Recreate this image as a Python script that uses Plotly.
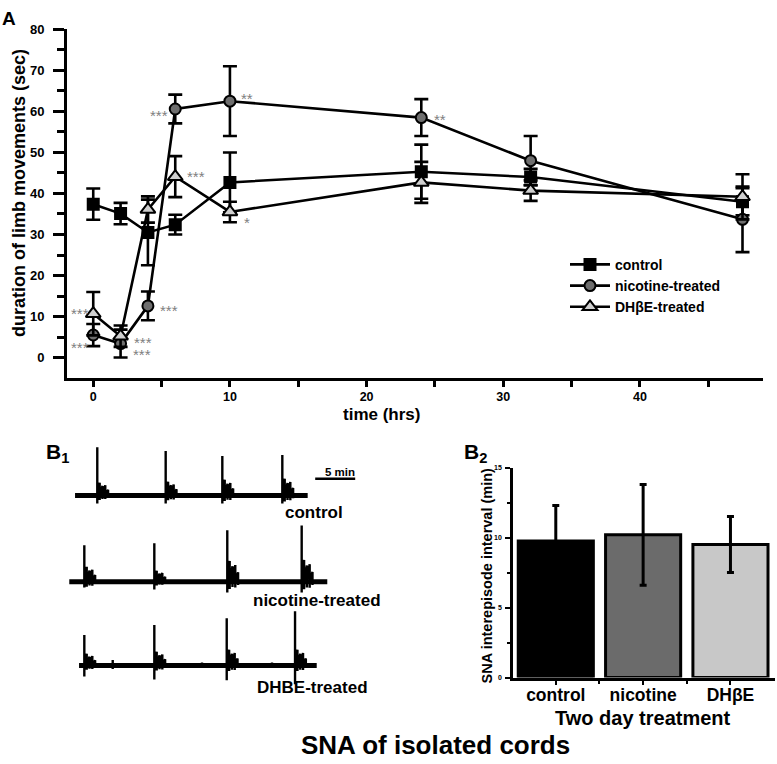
import plotly.graph_objects as go

W, H = 777, 764
def fx(px): return px / W
def fy(py): return 1 - py / H

# ---------------- Panel A data ----------------
time_hrs = [0, 2, 4, 6, 10, 24, 32, 47.5]
control_mean = [37.4, 35.1, 30.5, 32.4, 42.7, 45.3, 44.0, 38.0]
control_err = [3.8, 2.6, 8.0, 2.4, 7.3, 6.6, 2.0, 3.3]
nicotine_mean = [5.5, 3.4, 12.6, 60.6, 62.5, 58.5, 48.0, 33.7]
nicotine_err = [2.7, 3.4, 3.5, 3.5, 8.5, 4.5, 6.0, 8.0]
dhbe_mean = [10.7, 5.2, 36.1, 44.1, 35.5, 42.7, 40.7, 39.2]
dhbe_err = [5.3, 2.6, 3.2, 5.0, 2.5, 5.0, 2.5, 5.5]
series_names = ["control", "nicotine-treated", "DHβE-treated"]

star_text = ["***", "***", "***", "***", "***", "*", "***", "***", "**", "**"]
star_x = [-1.78, -1.78, 2.81, 2.74, 4.75, 10.85, 4.02, 6.71, 10.68, 24.8]
star_y = [3.44, 11.62, 4.74, 1.76, 12.44, 33.94, 59.93, 45.17, 64.19, 59.13]

x_ticks_A = [0, 10, 20, 30, 40]
x_minor_A = [5, 15, 25, 35, 45]
y_ticks_A = [0, 10, 20, 30, 40, 50, 60, 70, 80]
y_minor_A = [5, 15, 25, 35, 45, 55, 65, 75]

# ---------------- Panel B1 data (traces, minutes / amplitude units) ----------------
rec_names = ["control", "nicotine-treated", "DHBE-treated"]
rec_baseline = [205.0, 117.7, 32.7]
rec_start = [1.88, 1.16, 2.38]
rec_end = [30.96, 33.41, 32.09]
rec_event_t = [[4.66, 13.21, 20.29, 27.79],
               [3.04, 11.79, 20.91, 30.21],
               [3.04, 11.79, 20.84, 29.38]]
rec_spike_amp = [[49, 45, 40, 41], [37, 39, 52, 57], [31, 41, 48, 55]]
rec_dip_amp = [[8, 8, 8, 8], [6, 8, 11, 11], [11, 14, 15, 19]]
rec_burst_amp = [[13, 14, 16, 17], [15, 11, 21, 22], [12, 14, 16, 16]]
rec_small_t = [[], [], [6.59, 17.75, 26.5]]
rec_small_amp = [[], [], [5.6, 3, 3]]
burst_offsets = [0.3, 0.65, 1.0, 1.35]
burst_rel = [1.0, 0.75, 0.8, 0.45]
scale_bar_start = 31.9
scale_bar_minutes = 5

# ---------------- Panel B2 data ----------------
b2_categories = ["control", "nicotine", "DHβE"]
b2_values = [9.75, 10.2, 9.5]
b2_err = [2.55, 3.6, 2.0]
b2_colors = ["#000000", "#6b6b6b", "#c8c8c8"]

FONT = "Arial, Liberation Sans, sans-serif"

fig = go.Figure()

# Panel A traces
styles = [
    dict(symbol="square", size=11, color="#000000"),
    dict(symbol="circle", size=11, color="#6e6e6e"),
    dict(symbol="triangle-up", size=13, color="#cfcfcf"),
]
for name, mean, err, st in zip(series_names, [control_mean, nicotine_mean, dhbe_mean],
                               [control_err, nicotine_err, dhbe_err], styles):
    fig.add_trace(go.Scatter(
        x=time_hrs, y=mean, name=name, mode="lines+markers",
        line=dict(color="black", width=2.6),
        marker=dict(symbol=st["symbol"], size=st["size"], color=st["color"],
                    line=dict(color="black", width=2)),
        error_y=dict(type="data", array=err, visible=True, color="black",
                     thickness=2.6, width=7),
        xaxis="x", yaxis="y", showlegend=True))

# Panel B1 traces
for i in range(3):
    base = rec_baseline[i]
    fig.add_trace(go.Scatter(
        x=[rec_start[i], rec_end[i]], y=[base, base], mode="lines",
        line=dict(color="black", width=5), xaxis="x3", yaxis="y3",
        showlegend=False, hoverinfo="skip"))
    xs, ys = [], []
    for t, a, d, b in zip(rec_event_t[i], rec_spike_amp[i], rec_dip_amp[i], rec_burst_amp[i]):
        xs += [t, t, t, t]
        ys += [base, base + a, base - d, base]
        for o, r in zip(burst_offsets, burst_rel):
            xs += [t + o, t + o, t + o]
            ys += [base + b * r, base - b * r * 0.35, base]
        xs.append(None); ys.append(None)
    for t, a in zip(rec_small_t[i], rec_small_amp[i]):
        xs += [t, t, t, None]
        ys += [base + a, base - a * 0.6, base, None]
    fig.add_trace(go.Scatter(
        x=xs, y=ys, mode="lines", line=dict(color="black", width=2.4),
        xaxis="x3", yaxis="y3", showlegend=False, hoverinfo="skip", connectgaps=False))

fig.add_trace(go.Scatter(
    x=[scale_bar_start, scale_bar_start + scale_bar_minutes], y=[222, 222], mode="lines",
    line=dict(color="black", width=2.5), xaxis="x3", yaxis="y3",
    showlegend=False, hoverinfo="skip"))

# Panel B2 bars
fig.add_trace(go.Bar(
    x=[0, 1, 2], y=b2_values, width=0.86,
    marker=dict(color=b2_colors, line=dict(color="black", width=3)),
    error_y=dict(type="data", array=b2_err, visible=True, color="black",
                 thickness=3, width=3.5),
    xaxis="x2", yaxis="y2", showlegend=False))

axis_common = dict(showgrid=False, zeroline=False, showline=True, linecolor="black",
                   ticks="outside", tickcolor="black")

fig.update_layout(
    width=W, height=H, margin=dict(l=0, r=0, t=0, b=0),
    paper_bgcolor="white", plot_bgcolor="white",
    font=dict(family=FONT, color="black"),
    xaxis=dict(domain=[fx(67), fx(763)], range=[-1.92, 49.0], anchor="y",
               tickvals=x_ticks_A, linewidth=3, tickwidth=2.5, ticklen=6,
               tickfont=dict(size=12.5, weight="bold"), ticklabelstandoff=-1,
               minor=dict(tickvals=x_minor_A, ticks="outside", ticklen=6,
                          tickwidth=2.5, tickcolor="black"),
               **axis_common),
    yaxis=dict(domain=[fy(376), fy(22.7)], range=[-5, 80], anchor="x",
               tickvals=y_ticks_A, linewidth=3, tickwidth=2.5, ticklen=11,
               tickfont=dict(size=13, weight="bold"), ticklabelstandoff=6,
               minor=dict(tickvals=y_minor_A, ticks="outside", ticklen=7,
                          tickwidth=2.5, tickcolor="black"),
               **axis_common),
    xaxis2=dict(domain=[fx(513), fx(775)], range=[-0.49, 2.51], anchor="y2",
                tickvals=[0, 1, 2], ticktext=b2_categories, linewidth=2.5,
                tickwidth=2, ticklen=5, tickfont=dict(size=17.5, weight="bold"),
                ticklabelstandoff=-5,
                minor=dict(tickvals=[0.5, 1.5], ticks="outside", ticklen=4,
                           tickwidth=2, tickcolor="black"),
                **axis_common),
    yaxis2=dict(domain=[fy(679.5), fy(466.7)], range=[0, 15], anchor="x2",
                tickvals=[0, 5, 10, 15], linewidth=2.5, tickwidth=2, ticklen=5,
                tickfont=dict(size=7, weight="bold"), ticklabelstandoff=2,
                minor=dict(tickvals=[2.5, 7.5, 12.5], ticks="outside", ticklen=3,
                           tickwidth=2, tickcolor="black"),
                **axis_common),
    xaxis3=dict(domain=[fx(60), fx(380)], range=[0, 40], anchor="y3", visible=False),
    yaxis3=dict(domain=[fy(700), fy(440)], range=[0, 260], anchor="x3", visible=False),
    legend=dict(x=fx(565), y=fy(245), xanchor="left", yanchor="top",
                font=dict(size=14, weight="bold", family=FONT),
                bgcolor="rgba(0,0,0,0)", tracegroupgap=0, itemwidth=40),
    bargap=0.1,
)

ann = []
# significance stars
for t, xv, yv in zip(star_text, star_x, star_y):
    ann.append(dict(text=t, x=xv, y=yv, xref="x", yref="y", xanchor="left",
                    yanchor="middle", showarrow=False, yshift=-4,
                    font=dict(size=15, color="#808080", family=FONT)))

def pann(text, px, py, size, xanchor="center", angle=0, weight="bold"):
    ann.append(dict(text=text, x=fx(px), y=fy(py), xref="paper", yref="paper",
                    xanchor=xanchor, yanchor="middle", showarrow=False, textangle=angle,
                    font=dict(size=size, weight=weight, family=FONT, color="black")))

pann("A", 9, 12, 19)
pann("duration of limb movements (sec)", 19, 188.5, 18, angle=-90)
pann("time (hrs)", 381, 413, 17)
pann("B<sub>1</sub>", 57, 452, 21)
pann("B<sub>2</sub>", 476, 452, 21)
pann("5 min", 340, 471.5, 11.5)
pann(rec_names[0], 283, 511.7, 17, xanchor="left")
pann(rec_names[1], 251, 601.7, 17, xanchor="left")
pann(rec_names[2], 255, 690, 17, xanchor="left")
pann("SNA interepisode interval (min)", 487, 576, 14.5, angle=-90)
pann("Two day treatment", 643, 720, 20)
pann("SNA of isolated cords", 435, 748, 26)

fig.update_layout(annotations=ann)
fig.write_html("out.html", config={"displayModeBar": False},
               post_script="document.body.style.margin='0';document.body.style.padding='0';")
